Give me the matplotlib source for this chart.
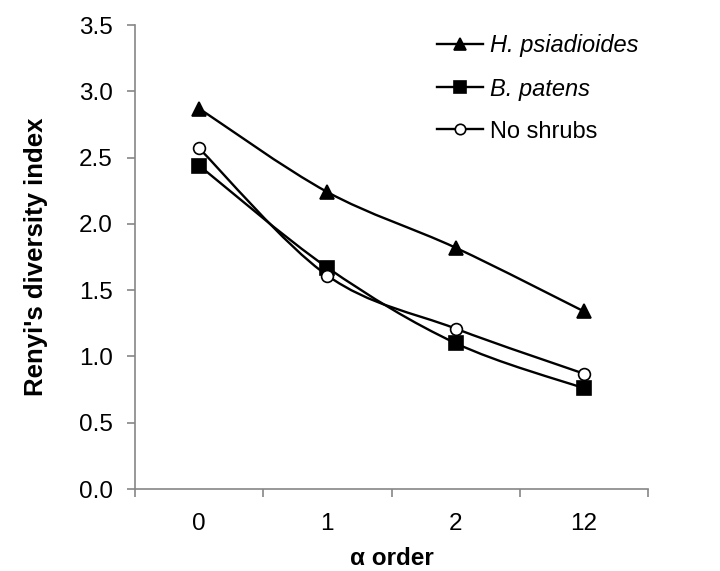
import numpy as np
import matplotlib.pyplot as plt
from matplotlib.path import Path
from matplotlib.patches import PathPatch
from matplotlib.lines import Line2D

plt.rcParams['font.family'] = ['Liberation Sans', 'DejaVu Sans']

orders = ['0', '1', '2', '12']
h_psiadioides = [2.87, 2.24, 1.82, 1.34]
b_patens = [2.44, 1.67, 1.10, 0.76]
no_shrubs = [2.57, 1.61, 1.21, 0.87]

series = [
    ('H. psiadioides', h_psiadioides, '^', 'black', 'italic'),
    ('B. patens', b_patens, 's', 'black', 'italic'),
    ('No shrubs', no_shrubs, 'o', 'white', 'normal'),
]


def smooth_path(x, y):
    # excel-like smoothed line: bezier segments through the points
    p = np.column_stack([x, y]).astype(float)
    ext = np.vstack([p[0], p, p[-1]])
    verts = [p[0]]
    codes = [Path.MOVETO]
    for i in range(len(p) - 1):
        a, b, c, d = ext[i], ext[i + 1], ext[i + 2], ext[i + 3]
        verts += [b + (c - a) / 6, c - (d - b) / 6, c]
        codes += [Path.CURVE4] * 3
    return Path(verts, codes)


fig = plt.figure(figsize=(7.2, 5.71), dpi=100)
ax = fig.add_axes([0.1875, 0.1436, 0.7125, 0.8126])

x = np.arange(len(orders))
handles = []
for name, vals, mk, fc, style in series:
    ax.add_patch(PathPatch(smooth_path(x, vals), fill=False, edgecolor='black',
                           lw=1.7, zorder=2))
    ax.plot(x, vals, ls='none', marker=mk, ms=10 if mk != 'o' else 8.5,
            mfc=fc, mec='black', mew=1.2, zorder=3)
    handles.append(Line2D([], [], color='black', lw=1.7, marker=mk,
                          ms=9 if mk != 'o' else 7.5, mfc=fc, mec='black', mew=1.2))

ax.set_xlim(-0.5, 3.5)
ax.set_ylim(0, 3.5)
ax.set_yticks(np.arange(0, 3.51, 0.5))
ax.set_yticklabels(['%.1f' % v for v in np.arange(0, 3.51, 0.5)], fontsize=17.5)
ax.set_xticks(np.arange(-0.5, 3.6, 1))
ax.set_xticklabels([])
ax.set_xticks(x, minor=True)
ax.set_xticklabels(orders, minor=True, fontsize=17.5)
ax.tick_params(axis='x', which='minor', length=0, pad=17)
ax.tick_params(axis='x', which='major', length=6, width=1.2, color='#868686')
ax.tick_params(axis='y', length=6, width=1.2, color='#868686', pad=10)

for s in ['top', 'right']:
    ax.spines[s].set_visible(False)
for s in ['left', 'bottom']:
    ax.spines[s].set_color('#868686')
    ax.spines[s].set_linewidth(1.2)

ax.set_ylabel("Renyi's diversity index", fontsize=18.5, fontweight='bold', labelpad=22)
ax.set_xlabel('α order', fontsize=17.5, fontweight='bold', labelpad=9)

leg = ax.legend(handles, [s[0] for s in series], loc='upper left',
                bbox_to_anchor=(0.57, 1.0), frameon=False, fontsize=17,
                handlelength=1.95, handletextpad=0.3, labelspacing=0.85,
                borderaxespad=0)
for t, s in zip(leg.get_texts(), series):
    t.set_fontstyle(s[4])

fig.savefig('out.png', dpi=100)
